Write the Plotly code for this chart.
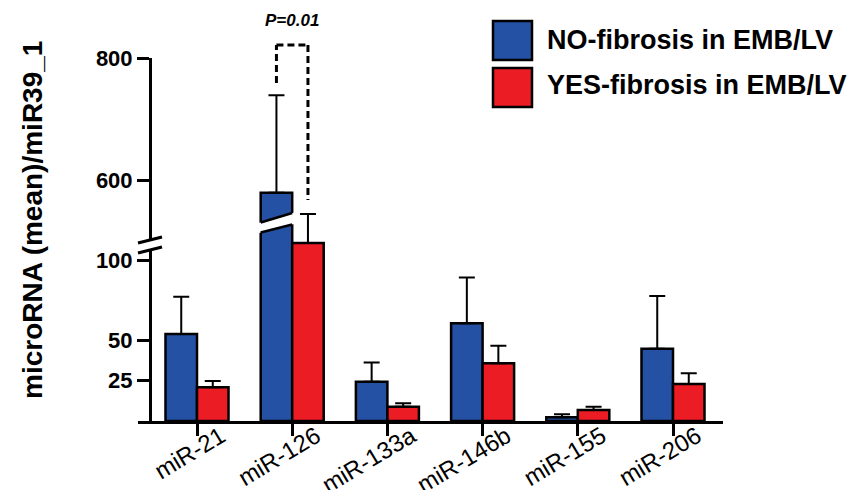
import plotly.graph_objects as go

# ---------------- data ----------------
categories = ["miR-21", "miR-126", "miR-133a", "miR-146b", "miR-155", "miR-206"]
no_fibrosis = [54.0, 579.0, 24.4, 60.7, 2.3, 44.9]
no_fibrosis_err = [23.2, 160.0, 12.0, 28.5, 1.9, 32.7]
yes_fibrosis = [20.9, 110.6, 8.9, 35.8, 6.8, 23.0]
yes_fibrosis_err = [3.9, 18.0, 2.1, 11.0, 2.1, 6.6]
series_names = ["NO-fibrosis in EMB/LV", "YES-fibrosis in EMB/LV"]
low_ticks = [25, 50, 100]
high_ticks = [600, 800]
p_label = "P=0.01"
y_title = "microRNA (mean)/miR39_1"

# ---------------- styling / geometry ----------------
W, H = 848, 490
BLUE = "#2451a3"
RED = "#ec1c24"
FONT = "Liberation Sans, Arial, sans-serif"


def fx(px):
    return px / W


def fy(py):
    return 1 - py / H


# x axis geometry (pixels)
x_left_px, x_right_px = 138, 723
cat0_px, cat_step_px = 197, 95.2
x_range = [(x_left_px - cat0_px) / cat_step_px, (x_right_px - cat0_px) / cat_step_px]

# lower segment: 0 at y=421, 1.61 px/unit ; upper segment: 600 at y=180, 0.61 px/unit
base_px, low_scale = 421, 1.61
hi_ref_val, hi_ref_px, hi_scale = 600, 180, 0.61
split_px = 212


def low_val(py):
    return (base_px - py) / low_scale


def hi_val(py):
    return hi_ref_val + (hi_ref_px - py) / hi_scale


bargap = 0.338
bw = (1 - bargap) / 2  # width of one bar in category units

fig = go.Figure()

line_style = dict(color="black", width=2.5)
err_style = dict(type="data", symmetric=False, color="black", thickness=2, width=8)

for yax in ("y", "y2"):
    fig.add_trace(go.Bar(
        x=categories, y=no_fibrosis, name=series_names[0], yaxis=yax,
        marker=dict(color=BLUE, line=line_style), showlegend=False,
        error_y=dict(array=no_fibrosis_err, arrayminus=[0] * len(categories), **err_style),
    ))
    fig.add_trace(go.Bar(
        x=categories, y=yes_fibrosis, name=series_names[1], yaxis=yax,
        marker=dict(color=RED, line=line_style), showlegend=False,
        error_y=dict(array=yes_fibrosis_err, arrayminus=[0] * len(categories), **err_style),
    ))

# invisible traces to carry the visible (broken) y axes
for yax in ("y3", "y4"):
    fig.add_trace(go.Scatter(x=[None], y=[None], yaxis=yax, showlegend=False,
                             hoverinfo="skip", mode="markers"))

axis_common = dict(showgrid=False, zeroline=False, fixedrange=True)

fig.update_layout(
    width=W, height=H,
    margin=dict(l=0, r=0, t=0, b=0, autoexpand=False),
    paper_bgcolor="white", plot_bgcolor="rgba(0,0,0,0)",
    barmode="group", bargap=bargap, bargroupgap=0,
    showlegend=False,
    font=dict(family=FONT, color="black"),
    xaxis=dict(
        domain=[fx(x_left_px), fx(x_right_px)], range=x_range, anchor="y",
        showline=True, linecolor="black", linewidth=3,
        ticks="outside", ticklen=12, tickwidth=3, tickcolor="black",
        tickangle=-31, tickfont=dict(size=24, family=FONT, color="black"),
        ticklabelshift=24, ticklabelstandoff=-23,
        **axis_common,
    ),
    yaxis=dict(
        domain=[fy(base_px), fy(split_px)], range=[0, low_val(split_px)],
        visible=False, **axis_common,
    ),
    yaxis2=dict(
        domain=[fy(split_px), 1], range=[hi_val(split_px), hi_val(0)],
        visible=False, anchor="x", **axis_common,
    ),
    yaxis3=dict(
        domain=[fy(base_px), fy(250)], range=[0, low_val(250)],
        anchor="free", position=fx(150),
        showline=True, linecolor="black", linewidth=3,
        ticks="outside", ticklen=12, tickwidth=3, tickcolor="black",
        tickvals=low_ticks, ticktext=[str(v) for v in low_ticks],
        tickfont=dict(size=22, family=FONT, color="black", weight="bold"),
        **axis_common,
    ),
    yaxis4=dict(
        domain=[fy(240), fy(58)], range=[hi_val(240), 800.01],
        anchor="free", position=fx(150),
        showline=True, linecolor="black", linewidth=3,
        ticks="outside", ticklen=12, tickwidth=3, tickcolor="black",
        tickvals=high_ticks, ticktext=[str(v) for v in high_ticks],
        tickfont=dict(size=22, family=FONT, color="black", weight="bold"),
        **axis_common,
    ),
)

shapes = []
# axis break marks on the y axis
for (y1, y2) in ((243, 237), (253, 247)):
    shapes.append(dict(type="line", xref="paper", yref="paper",
                       x0=fx(138), x1=fx(162), y0=fy(y1), y1=fy(y2),
                       line=dict(color="black", width=3)))

# break across the miR-126 blue bar
bi = categories.index("miR-126")
bl, br = bi - bw, bi
pad = 0.03
upper_l, upper_r = 222.5, 213
lower_l, lower_r = 232.5, 224.5
slope_u = (upper_r - upper_l) / (br - bl)
slope_d = (lower_r - lower_l) / (br - bl)
xl, xr = bl - pad, br + pad
path = (f"M {xl},{fy(upper_l - slope_u * pad)} L {xr},{fy(upper_r + slope_u * pad)} "
        f"L {xr},{fy(lower_r + slope_d * pad)} L {xl},{fy(lower_l - slope_d * pad)} Z")
shapes.append(dict(type="path", xref="x", yref="paper", path=path,
                   fillcolor="white", line=dict(width=0), layer="above"))
for (a, b) in ((upper_l, upper_r), (lower_l, lower_r)):
    shapes.append(dict(type="line", xref="x", yref="paper", x0=bl, x1=br,
                       y0=fy(a), y1=fy(b), line=dict(color="black", width=2.5)))

# significance bracket (dashed)
cl, cr = bi - bw / 2, bi + bw / 2
dash = dict(color="black", width=3, dash="7px,4px")
shapes.append(dict(type="line", xref="x", yref="y2", x0=cl, x1=cl, y0=hi_val(83), y1=hi_val(45), line=dash))
shapes.append(dict(type="line", xref="x", yref="y2", x0=cl, x1=cr, y0=hi_val(45), y1=hi_val(45), line=dash))
shapes.append(dict(type="line", xref="x", yref="y2", x0=cr, x1=cr, y0=hi_val(45), y1=hi_val(200), line=dash))

# manual legend boxes
for (top, col) in ((21, BLUE), (68, RED)):
    shapes.append(dict(type="rect", xref="paper", yref="paper",
                       x0=fx(493), x1=fx(532), y0=fy(top + 39), y1=fy(top),
                       fillcolor=col, line=dict(color="black", width=2.5)))

annotations = [
    dict(text=f"<b><i>{p_label}</i></b>", xref="x", yref="paper", x=bi, y=fy(20),
         showarrow=False, font=dict(size=17, family=FONT, color="black"),
         xanchor="center", yanchor="middle"),
    dict(text=f"<b>{y_title}</b>", xref="paper", yref="paper", x=fx(32), y=fy(220),
         textangle=-90, showarrow=False, font=dict(size=28, family=FONT, color="black"),
         xanchor="center", yanchor="middle"),
]
for (cy, name) in ((40, series_names[0]), (85.5, series_names[1])):
    annotations.append(dict(text=f"<b>{name}</b>", xref="paper", yref="paper",
                            x=fx(545), y=fy(cy), showarrow=False,
                            font=dict(size=27, family=FONT, color="black"),
                            xanchor="left", yanchor="middle"))

fig.update_layout(shapes=shapes, annotations=annotations)

fig.write_html("out.html", config={"displayModeBar": False},
               post_script="document.body.style.margin='0';")
